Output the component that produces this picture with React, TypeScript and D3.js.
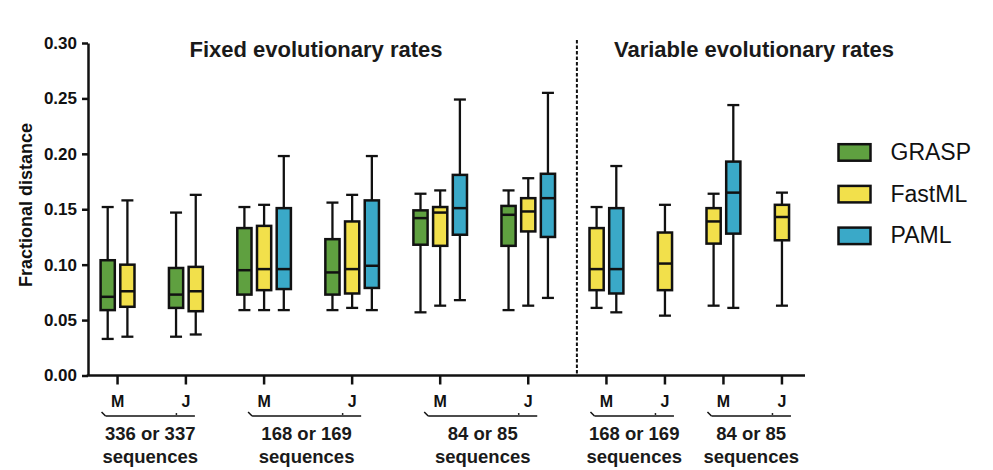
import React, { useEffect, useRef } from "react";
import { select, scaleLinear, axisLeft, format } from "d3";

const seriesNames = ["GRASP", "FastML", "PAML"];
const seriesColors = ["#5fa040", "#f2e04b", "#3aa9c8"];
const tickLabels = ["M", "J", "M", "J", "M", "J", "M", "J", "M", "J"];
const groupLabels = ["336 or 337", "168 or 169", "84 or 85", "168 or 169", "84 or 85"];
const panelTitles = ["Fixed evolutionary rates", "Variable evolutionary rates"];
const yTicks = [0, 0.05, 0.1, 0.15, 0.2, 0.25, 0.3];

// [min, q1, median, q3, max] per category, null where the method is not shown
const grasp = [
  [0.033, 0.059, 0.071, 0.104, 0.152],
  [0.035, 0.061, 0.073, 0.097, 0.147],
  [0.059, 0.073, 0.095, 0.133, 0.152],
  [0.059, 0.073, 0.093, 0.123, 0.156],
  [0.057, 0.118, 0.142, 0.149, 0.164],
  [0.059, 0.117, 0.145, 0.153, 0.167],
  null,
  null,
  null,
  null,
];
const fastml = [
  [0.035, 0.062, 0.076, 0.1, 0.158],
  [0.037, 0.058, 0.076, 0.098, 0.163],
  [0.059, 0.077, 0.096, 0.135, 0.154],
  [0.061, 0.074, 0.096, 0.139, 0.163],
  [0.063, 0.117, 0.147, 0.152, 0.167],
  [0.063, 0.13, 0.148, 0.16, 0.178],
  [0.061, 0.077, 0.096, 0.133, 0.152],
  [0.054, 0.077, 0.101, 0.129, 0.154],
  [0.063, 0.119, 0.139, 0.151, 0.164],
  [0.063, 0.122, 0.143, 0.154, 0.165],
];
const paml = [
  null,
  null,
  [0.059, 0.078, 0.096, 0.151, 0.198],
  [0.059, 0.079, 0.099, 0.158, 0.198],
  [0.068, 0.127, 0.151, 0.181, 0.249],
  [0.07, 0.125, 0.16, 0.182, 0.255],
  [0.057, 0.074, 0.096, 0.151, 0.189],
  null,
  [0.061, 0.128, 0.165, 0.193, 0.244],
  null,
];

const App = () => {
  const ref = useRef<SVGSVGElement>(null);

  useEffect(() => {
    const svg = select(ref.current);
    svg.selectAll("*").remove();
    const font = "'Liberation Sans', Arial, Helvetica, sans-serif";

    const y = scaleLinear().domain([0, 0.3]).range([375.5, 43]);
    // x in "box slot" units: each category takes as many slots as boxes, plus a gap
    const gap = 1.47;
    const counts = tickLabels.map((_, i) => [grasp, fastml, paml].filter((s) => s[i]).length);
    const starts: number[] = [];
    let acc = 0;
    counts.forEach((n) => {
      starts.push(acc);
      acc += n + gap;
    });
    const centers = counts.map((n, i) => starts[i] + n / 2);
    const x = scaleLinear().domain([-0.5, 35.9]).range([88, 805]);
    const step = x(1) - x(0);
    const bw = 14.2;

    // y axis
    const yAxis = axisLeft(y)
      .tickValues(yTicks)
      .tickFormat(format(".2f"))
      .tickSize(6)
      .tickSizeOuter(0)
      .tickPadding(5);
    const ga = svg.append("g").attr("transform", `translate(${x(-0.5)},0)`).call(yAxis);
    ga.select(".domain").attr("stroke", "#111").attr("stroke-width", 2.5);
    ga.selectAll(".tick line").attr("stroke", "#111").attr("stroke-width", 2.5);
    ga.selectAll(".tick text")
      .attr("fill", "#111")
      .style("font-family", font)
      .style("font-weight", "bold")
      .style("font-size", "17px");

    svg
      .append("text")
      .attr("transform", `translate(32,205)rotate(-90)`)
      .attr("text-anchor", "middle")
      .style("font-family", font)
      .style("font-weight", "bold")
      .style("font-size", "18px")
      .attr("fill", "#111")
      .text("Fractional distance");

    // x axis line and ticks
    svg
      .append("line")
      .attr("x1", x(-0.5) - 1.25)
      .attr("x2", x(35.9))
      .attr("y1", y(0))
      .attr("y2", y(0))
      .attr("stroke", "#111")
      .attr("stroke-width", 2.5);
    svg
      .selectAll(".xtick")
      .data(centers)
      .join("line")
      .attr("x1", (d) => x(d))
      .attr("x2", (d) => x(d))
      .attr("y1", y(0))
      .attr("y2", y(0) + 9)
      .attr("stroke", "#111")
      .attr("stroke-width", 2.5);
    svg
      .selectAll(".xlab")
      .data(tickLabels)
      .join("text")
      .attr("x", (d, i) => x(centers[i]))
      .attr("y", 407)
      .attr("text-anchor", "middle")
      .style("font-family", font)
      .style("font-weight", "bold")
      .style("font-size", "16px")
      .attr("fill", "#111")
      .text((d) => d);

    // group brackets and labels
    groupLabels.forEach((label, g) => {
      const x0 = x(centers[g * 2]) - 12;
      const x1 = x(centers[g * 2 + 1]) + 9;
      const gg = svg.append("g");
      gg.append("line")
        .attr("x1", x0)
        .attr("x2", x1)
        .attr("y1", 416)
        .attr("y2", 416)
        .attr("stroke", "#111")
        .attr("stroke-width", 1.5);
      gg.append("line")
        .attr("x1", x0 - 4)
        .attr("x2", x0)
        .attr("y1", 412)
        .attr("y2", 416)
        .attr("stroke", "#111")
        .attr("stroke-width", 1.5);
      gg.append("circle")
        .attr("cx", x1 - 18.5)
        .attr("cy", 414)
        .attr("r", 0.9)
        .attr("fill", "#111");
      const t = gg
        .append("text")
        .attr("text-anchor", "middle")
        .style("font-family", font)
        .style("font-weight", "bold")
        .style("font-size", "18.5px")
        .attr("fill", "#1a1a1a");
      t.append("tspan").attr("x", (x0 + x1) / 2).attr("y", 440).text(label);
      t.append("tspan").attr("x", (x0 + x1) / 2).attr("y", 463).text("sequences");
    });

    // dashed divider between panels
    const divX = x(starts[6] - 0.5);
    svg
      .append("line")
      .attr("x1", divX)
      .attr("x2", divX)
      .attr("y1", 40)
      .attr("y2", y(0))
      .attr("stroke", "#111")
      .attr("stroke-width", 2)
      .attr("stroke-dasharray", "3.5,2");

    // panel titles
    [316, 754].forEach((cx, i) => {
      svg
        .append("text")
        .attr("x", cx)
        .attr("y", 57)
        .attr("text-anchor", "middle")
        .style("font-family", font)
        .style("font-weight", "bold")
        .style("font-size", "22px")
        .attr("fill", "#1a1a1a")
        .text(panelTitles[i]);
    });

    // boxes
    const all = [grasp, fastml, paml];
    tickLabels.forEach((_, i) => {
      const present = all.map((s, k) => ({ s: s[i], k })).filter((d) => d.s);
      present.forEach((d, j) => {
        const [mn, q1, md, q3, mx] = d.s as number[];
        const cx = x(centers[i]) + (j - (present.length - 1) / 2) * step;
        const g = svg.append("g");
        const ln = (x1: number, y1: number, x2: number, y2: number) =>
          g
            .append("line")
            .attr("x1", x1)
            .attr("y1", y1)
            .attr("x2", x2)
            .attr("y2", y2)
            .attr("stroke", "#111")
            .attr("stroke-width", 2.3);
        ln(cx, y(mx), cx, y(q3));
        ln(cx, y(q1), cx, y(mn));
        ln(cx - 6, y(mx), cx + 6, y(mx));
        ln(cx - 6, y(mn), cx + 6, y(mn));
        g.append("rect")
          .attr("x", cx - bw / 2)
          .attr("width", bw)
          .attr("y", y(q3))
          .attr("height", y(q1) - y(q3))
          .attr("fill", seriesColors[d.k])
          .attr("stroke", "#111")
          .attr("stroke-width", 2.5);
        ln(cx - bw / 2, y(md), cx + bw / 2, y(md)).attr("stroke-width", 2.5);
      });
    });

    // legend
    seriesNames.forEach((name, k) => {
      const ly = 143 + k * 41.7;
      svg
        .append("rect")
        .attr("x", 838.5)
        .attr("y", ly + 1.2)
        .attr("width", 32)
        .attr("height", 16.5)
        .attr("fill", seriesColors[k])
        .attr("stroke", "#111")
        .attr("stroke-width", 2.5);
      svg
        .append("text")
        .attr("x", 890.5)
        .attr("y", ly + 17)
        .style("font-family", font)
        .style("font-size", "23px")
        .attr("fill", "#111")
        .text(name);
    });
  }, []);

  return (
    <svg
      ref={ref}
      width={993}
      height={470}
      style={{ position: "absolute", left: 0, top: 0, background: "#fff" }}
    />
  );
};

export default App;
